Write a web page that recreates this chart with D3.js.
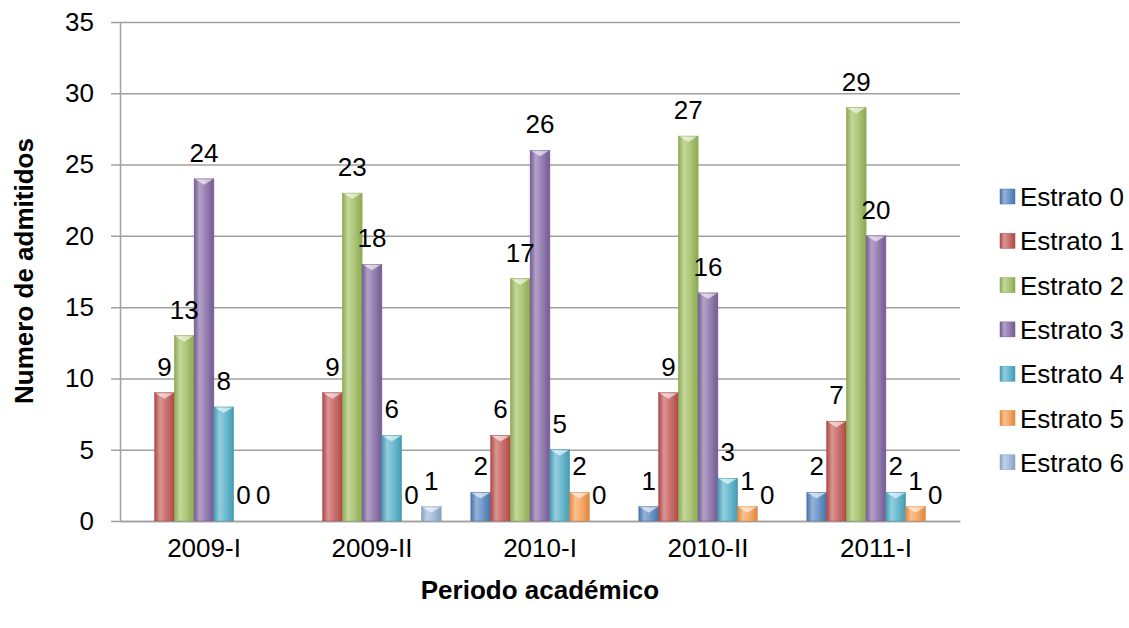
<!DOCTYPE html>
<html><head><meta charset="utf-8">
<script src="https://cdn.jsdelivr.net/npm/d3@7"></script>
<style>body{margin:0;background:#fff;}svg{display:block;font-family:"Liberation Sans",Arial,sans-serif;}</style>
</head><body>
<svg id="c" width="1129" height="628"></svg>
<script>
const categories = ["2009-I","2009-II","2010-I","2010-II","2011-I"];
const seriesNames = ["Estrato 0","Estrato 1","Estrato 2","Estrato 3","Estrato 4","Estrato 5","Estrato 6"];
const estrato0 = [null, null, 2, 1, 2];
const estrato1 = [9, 9, 6, 9, 7];
const estrato2 = [13, 23, 17, 27, 29];
const estrato3 = [24, 18, 26, 16, 20];
const estrato4 = [8, 6, 5, 3, 2];
const estrato5 = [0, 0, 2, 1, 1];
const estrato6 = [0, 1, 0, 0, 0];
const yTicks = [0,5,10,15,20,25,30,35];
const colors = ["#4f81bd","#c0504d","#9bbb59","#8064a2","#4bacc6","#f79646","#95b3d7"];
const seriesValues = [estrato0,estrato1,estrato2,estrato3,estrato4,estrato5,estrato6];

(function(){
const FS = 26;
const svg = d3.select("#c");
const pL = 120, pR = 960, pT = 22, pB = 521;

const x0 = d3.scaleBand().domain(categories).range([pL, pR]).paddingInner(0).paddingOuter(0);
const bw = x0.bandwidth() / 8.5;
const x1 = d3.scaleBand().domain(seriesNames).range([0.75*bw, 0.75*bw + 7*bw]).padding(0);
const y = d3.scaleLinear().domain([0,35]).range([pB, pT]);

const defs = svg.append("defs");
colors.forEach((c,i) => {
  const g = defs.append("linearGradient").attr("id","g"+i).attr("x1","0").attr("x2","1").attr("y1","0").attr("y2","0");
  const dark = d3.color(c).darker(0.3);
  g.append("stop").attr("offset","0%").attr("stop-color", dark);
  g.append("stop").attr("offset","28%").attr("stop-color", d3.interpolateRgb(c, "#ffffff")(0.4));
  g.append("stop").attr("offset","55%").attr("stop-color", d3.interpolateRgb(c, "#ffffff")(0.22));
  g.append("stop").attr("offset","100%").attr("stop-color", dark);
});

const yAxis = d3.axisLeft(y).tickValues(yTicks).tickSize(-(pR-pL)).tickSizeOuter(0).tickPadding(26);
const ga = svg.append("g").attr("transform",`translate(${pL},0)`).call(yAxis);
ga.select(".domain").attr("stroke","#a0a0a0").attr("stroke-width",1.5);
ga.selectAll(".tick line").attr("stroke","#a0a0a0").attr("stroke-width",1.5).attr("x1",-9);
ga.selectAll(".tick text").attr("font-size",FS).attr("fill","#000").attr("font-family","Liberation Sans, Arial, sans-serif");

const xAxis = d3.axisBottom(x0).tickSize(0).tickPadding(18);
const gx = svg.append("g").attr("transform",`translate(0,${pB})`).call(xAxis);
gx.select(".domain").attr("stroke","#a0a0a0").attr("stroke-width",1.5);
gx.selectAll(".tick text").attr("font-size",FS).attr("fill","#000").attr("font-family","Liberation Sans, Arial, sans-serif");

const data = [];
categories.forEach((cat,ci) => {
  seriesNames.forEach((s,si) => {
    data.push({cat, s, si, v: seriesValues[si][ci]});
  });
});
const barsG = svg.append("g");
data.filter(d => d.v !== null && d.v > 0).forEach(d => {
  const bx = x0(d.cat) + x1(d.s);
  const by = y(d.v);
  const h = pB - by;
  const w = x1.bandwidth();
  barsG.append("rect").attr("x",bx).attr("y",by).attr("width",w).attr("height",h)
    .attr("fill",`url(#g${d.si})`).attr("stroke", d3.color(colors[d.si]).darker(0.3)).attr("stroke-width",0.5);
  const tri = Math.min(6, h*0.6);
  barsG.append("path").attr("d",`M${bx+1},${by+0.5} L${bx+w-1},${by+0.5} L${bx+w/2},${by+tri} Z`)
    .attr("fill","#ffffff").attr("opacity",0.6);
});

svg.append("g").selectAll("text").data(data.filter(d => d.v !== null)).join("text")
  .attr("x", d => x0(d.cat) + x1(d.s) + x1.bandwidth()/2)
  .attr("y", d => y(d.v) - 17)
  .attr("text-anchor","middle").attr("font-size",FS).attr("fill","#000")
  .text(d => d.v);

svg.append("text").attr("transform","translate(33,271) rotate(-90)").attr("text-anchor","middle")
  .attr("font-size",FS).attr("font-weight","bold").text("Numero de admitidos");
svg.append("text").attr("x",540).attr("y",599).attr("text-anchor","middle")
  .attr("font-size",FS).attr("font-weight","bold").text("Periodo académico");

const lg = svg.append("g");
seriesNames.forEach((s,i) => {
  const cy = 196.5 + i*44.3;
  lg.append("rect").attr("x",1000).attr("y",cy-7.5).attr("width",15).attr("height",15).attr("fill",`url(#g${i})`)
    .attr("stroke", d3.color(colors[i]).darker(0.3)).attr("stroke-width",0.5);
  lg.append("text").attr("x",1020).attr("y",cy+9.5).attr("font-size",FS).attr("fill","#000").text(s);
});
})();
</script>
</body></html>
